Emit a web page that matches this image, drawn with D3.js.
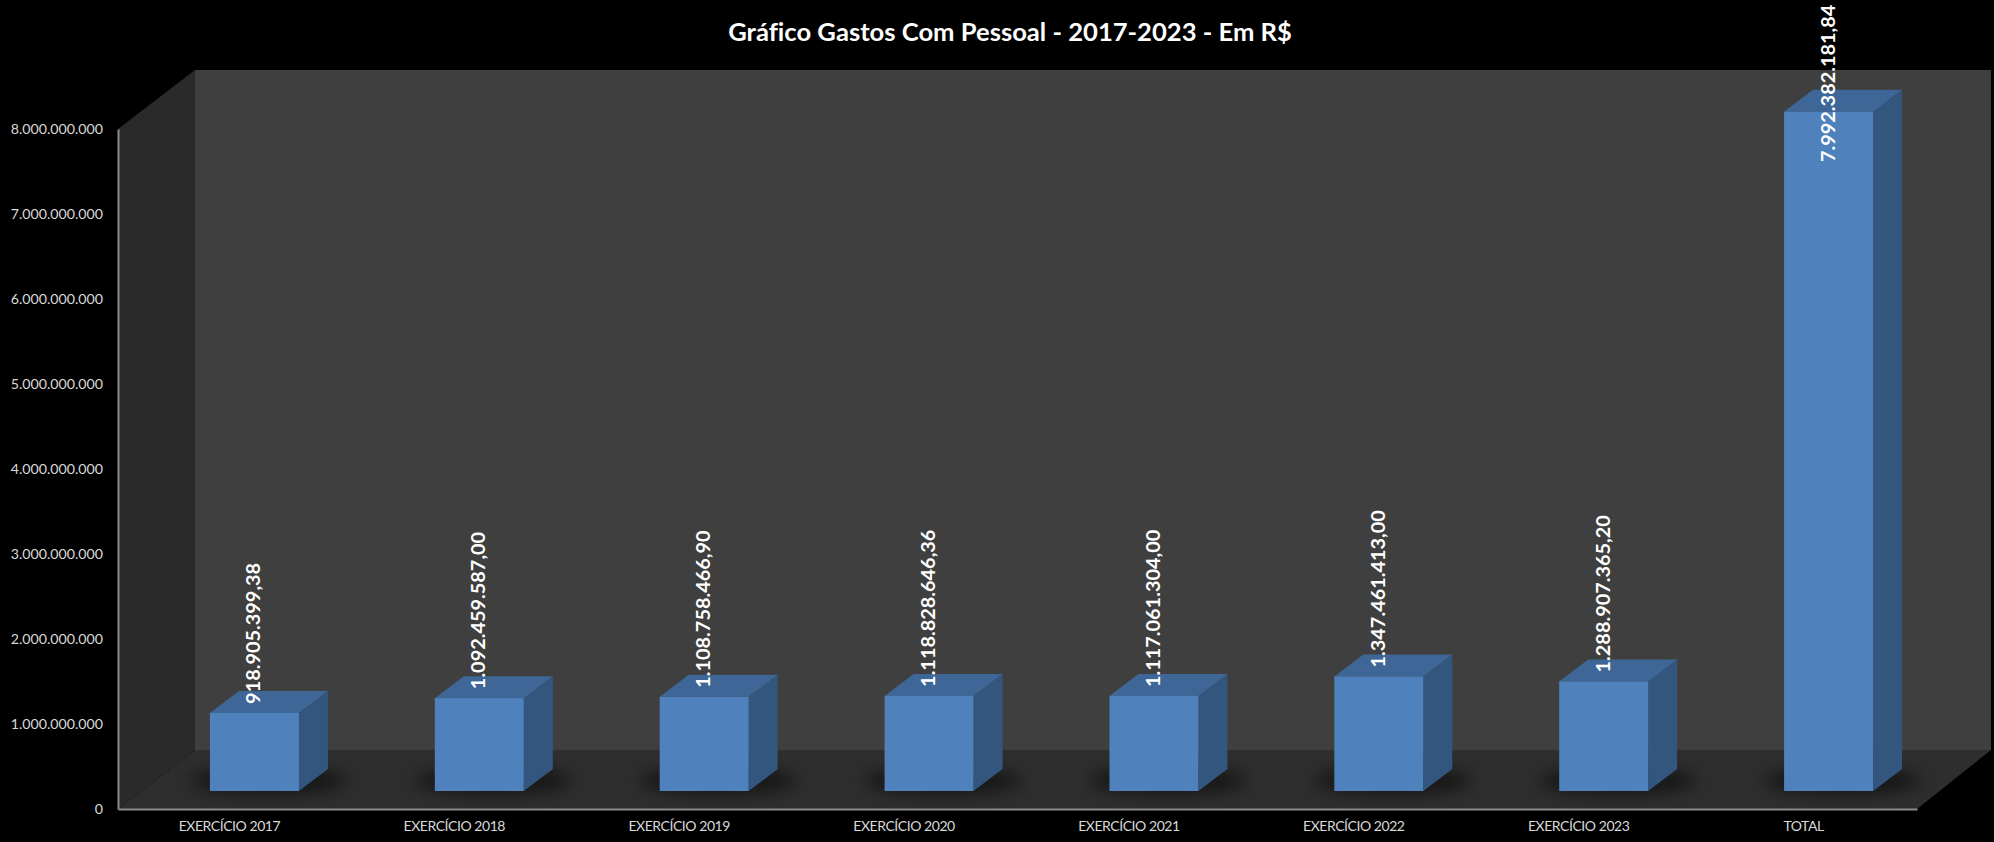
<!DOCTYPE html>
<html>
<head>
<meta charset="utf-8">
<script src="https://cdn.jsdelivr.net/npm/d3@7"></script>
<style>
  html, body { margin: 0; background: #000; overflow: hidden; }
  text { font-family: Lato, "Open Sans", sans-serif; font-variant-ligatures: none; }
</style>
</head>
<body>
<svg id="chart" width="1994" height="842"></svg>
<script>
/* ------------------ data ------------------ */

const categories = ["EXERCÍCIO 2017", "EXERCÍCIO 2018", "EXERCÍCIO 2019", "EXERCÍCIO 2020",
  "EXERCÍCIO 2021", "EXERCÍCIO 2022", "EXERCÍCIO 2023", "TOTAL"];
const values = [918905399.38, 1092459587.00, 1108758466.90, 1118828646.36,
  1117061304.00, 1347461413.00, 1288907365.20, 7992382181.84];
const valueLabels = ["918.905.399,38", "1.092.459.587,00", "1.108.758.466,90", "1.118.828.646,36",
  "1.117.061.304,00", "1.347.461.413,00", "1.288.907.365,20", "7.992.382.181,84"];
const yTicks = [0, 1e9, 2e9, 3e9, 4e9, 5e9, 6e9, 7e9, 8e9];
const titleText = "Gráfico Gastos Com Pessoal - 2017-2023 - Em R$";

/* ------------------ constants ------------------ */

const LEFT = 118, RIGHT = 1917, BASE = 809, TOP = 129;
const WALL_DX = 77, WALL_DY = 59;   // depth of the 3d box
const BAR_W = 89, BAR_DX = 29, BAR_DY = 22;
const BAR_SHIFT = 24, BAR_LIFT = 18; // bars stand in the middle of the floor

const svg = d3.select("#chart");

const x = d3.scaleBand().domain(categories).range([LEFT, RIGHT]);
const y = d3.scaleLinear().domain([0, 8e9]).range([BASE, TOP]);

const poly = pts => pts.map(p => p.join(",")).join(" ");

/* ------------------ defs ------------------ */

const defs = svg.append("defs");
defs.append("filter").attr("id", "blur")
  .attr("x", "-50%").attr("y", "-150%").attr("width", "200%").attr("height", "400%")
  .attr("color-interpolation-filters", "sRGB")
  .append("feGaussianBlur").attr("stdDeviation", 8);

/* ------------------ walls ------------------ */

const walls = svg.append("g");
const yTop = y(8e9), yBase = y(0);

walls.append("polygon")
  .attr("points", poly([[LEFT + WALL_DX, yTop - WALL_DY], [RIGHT + WALL_DX - 3, yTop - WALL_DY],
    [RIGHT + WALL_DX - 3, yBase - WALL_DY], [LEFT + WALL_DX, yBase - WALL_DY]]))
  .attr("fill", "#3f3f3f");
walls.append("polygon")
  .attr("points", poly([[LEFT, yTop], [LEFT + WALL_DX, yTop - WALL_DY],
    [LEFT + WALL_DX, yBase - WALL_DY], [LEFT, yBase]]))
  .attr("fill", "#2a2a2a");
walls.append("polygon")
  .attr("points", poly([[LEFT, yBase], [LEFT + WALL_DX, yBase - WALL_DY],
    [RIGHT + WALL_DX - 3, yBase - WALL_DY], [RIGHT, yBase]]))
  .attr("fill", "#2e2e2e");

/* ------------------ axes ------------------ */

const yAxis = d3.axisLeft(y)
  .tickValues(yTicks)
  .tickSize(0)
  .tickPadding(15)
  .tickFormat(d => d === 0 ? "0" : d3.format(",")(d).replace(/,/g, "."));

svg.append("g")
  .attr("transform", `translate(${LEFT},0)`)
  .call(yAxis)
  .call(g => g.select(".domain").attr("stroke", "#8c8c8c").attr("stroke-width", 2))
  .call(g => g.selectAll("text").attr("fill", "#d9d9d9").attr("font-size", 14.2)
    .style("font-family", "Lato, sans-serif"));

const xAxis = d3.axisBottom(x).tickSize(0).tickPadding(12);

svg.append("g")
  .attr("transform", `translate(0,${BASE})`)
  .call(xAxis)
  .call(g => g.select(".domain").attr("stroke", "#8c8c8c").attr("stroke-width", 2))
  .call(g => g.selectAll("text").attr("fill", "#d9d9d9").attr("font-size", 14)
    .attr("letter-spacing", -0.45)
    .attr("dx", -1)
    .style("font-family", "Lato, sans-serif"));

/* ------------------ bars ------------------ */

const barX = d => x(d) + x.bandwidth() / 2 + BAR_SHIFT - BAR_W / 2;
const barBase = y(0) - BAR_LIFT;
const barTop = (i) => barBase - (y(0) - y(values[i]));

const bars = svg.append("g").selectAll("g.bar")
  .data(categories)
  .join("g")
  .attr("class", "bar");

// soft shadow on the floor
bars.append("ellipse")
  .attr("cx", d => barX(d) + BAR_W / 2 + 14)
  .attr("cy", barBase - 10)
  .attr("rx", BAR_W * 0.88)
  .attr("ry", 14)
  .attr("fill", "#171717")
  .attr("filter", "url(#blur)");

bars.append("polygon")
  .attr("fill", "#33567f")
  .attr("points", (d, i) => poly([
    [barX(d) + BAR_W, barTop(i)],
    [barX(d) + BAR_W + BAR_DX, barTop(i) - BAR_DY],
    [barX(d) + BAR_W + BAR_DX, barBase - BAR_DY],
    [barX(d) + BAR_W, barBase]]));

bars.append("polygon")
  .attr("fill", "#3e6696")
  .attr("points", (d, i) => poly([
    [barX(d), barTop(i)],
    [barX(d) + BAR_DX, barTop(i) - BAR_DY],
    [barX(d) + BAR_W + BAR_DX, barTop(i) - BAR_DY],
    [barX(d) + BAR_W, barTop(i)]]));

bars.append("rect")
  .attr("x", d => barX(d))
  .attr("y", (d, i) => barTop(i))
  .attr("width", BAR_W)
  .attr("height", (d, i) => barBase - barTop(i))
  .attr("fill", "#4f81bd");

/* ------------------ value labels ------------------ */

svg.append("g").selectAll("text")
  .data(categories)
  .join("text")
  .attr("transform", (d, i) => {
    // tallest label is pushed down so it stays inside the picture
    const bottom = i === categories.length - 1 ? 162 : barTop(i) - 9;
    return `translate(${barX(d) + BAR_W / 2 + 6},${bottom}) rotate(-90)`;
  })
  .attr("fill", "#fff")
  .attr("font-size", 19.9)
  .attr("font-weight", 700)
  .text((d, i) => valueLabels[i]);

/* ------------------ title ------------------ */

svg.append("text")
  .attr("x", 1010)
  .attr("y", 41)
  .attr("text-anchor", "middle")
  .attr("fill", "#fff")
  .attr("font-size", 25.6)
  .attr("font-weight", 700)
  .text(titleText);
</script>
</body>
</html>
